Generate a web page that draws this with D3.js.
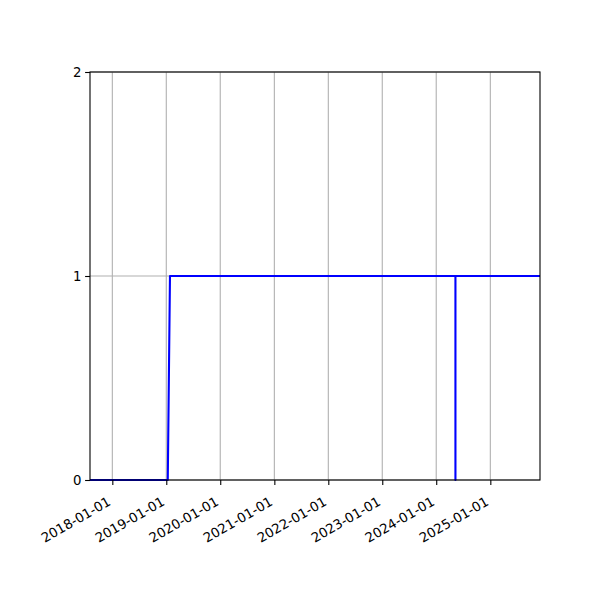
<!DOCTYPE html>
<html><head><meta charset="utf-8">
<script src="https://cdn.jsdelivr.net/npm/d3@7"></script>
<style>body{margin:0;background:#fff}svg{display:block}</style>
</head><body>
<script>
const dates = ["2017-08-03","2019-01-11","2019-01-26","2024-05-10","2024-05-10","2024-05-10","2025-12-03"];
const values = [0,0,1,1,0,1,1];
const xTicks = ["2018-01-01","2019-01-01","2020-01-01","2021-01-01","2022-01-01","2023-01-01","2024-01-01","2025-01-01"];
const yTicks = [0,1,2];
const xDomain = ["2017-08-03","2025-12-03"];
const yDomain = [0,2];

const parse = d3.utcParse("%Y-%m-%d");
const W=600,H=600, m={l:90,r:60,t:72,b:120};
const svg = d3.select("body").append("svg").attr("width",W).attr("height",H);
const x = d3.scaleUtc().domain(xDomain.map(parse)).range([m.l, W-m.r]);
const y = d3.scaleLinear().domain(yDomain).range([H-m.b, m.t]);
const font = "DejaVu Sans, sans-serif";

// grid
const g = svg.append("g");
g.selectAll(".vg").data(xTicks).join("line")
  .attr("x1",d=>x(parse(d))).attr("x2",d=>x(parse(d)))
  .attr("y1",y(0)).attr("y2",y(2))
  .attr("stroke","#b0b0b0").attr("stroke-width",1.1);
g.selectAll(".hg").data(yTicks).join("line")
  .attr("x1",m.l).attr("x2",W-m.r)
  .attr("y1",d=>y(d)).attr("y2",d=>y(d))
  .attr("stroke","#b0b0b0").attr("stroke-width",1.1);

// line
svg.append("clipPath").attr("id","c").append("rect")
  .attr("x",m.l).attr("y",m.t-2).attr("width",W-m.l-m.r).attr("height",H-m.t-m.b+4);
const data = dates.map((d,i)=>({d:parse(d),v:values[i]}));
svg.append("path").datum(data)
  .attr("clip-path","url(#c)")
  .attr("fill","none").attr("stroke","#0000ff").attr("stroke-width",2.1)
  .attr("stroke-linejoin","round")
  .attr("d", d3.line().x(d=>x(d.d)).y(d=>y(d.v)));

// axes
const xa = svg.append("g").attr("transform",`translate(0,${H-m.b})`)
  .call(d3.axisBottom(x).tickValues(xTicks.map(parse)).tickFormat(d3.utcFormat("%Y-%m-%d")).tickSize(4.9).tickSizeOuter(0));
xa.select(".domain").remove();
xa.selectAll("line").attr("stroke","#000").attr("stroke-width",1.1);
xa.selectAll("text").attr("font-family",font).attr("font-size",13.3).attr("fill","#000")
  .attr("text-anchor","end").attr("dy",null).attr("y",null)
  .attr("transform","translate(-6,16) rotate(-30)").attr("dominant-baseline","hanging");
const ya = svg.append("g").attr("transform",`translate(${m.l},0)`)
  .call(d3.axisLeft(y).tickValues(yTicks).tickFormat(d3.format("d")).tickSize(4.9).tickSizeOuter(0));
ya.select(".domain").remove();
ya.selectAll("line").attr("stroke","#000").attr("stroke-width",1.1);
ya.selectAll("text").attr("font-family",font).attr("font-size",13.3).attr("fill","#000").attr("x",-8.5);

// spines
svg.append("rect").attr("x",m.l).attr("y",m.t).attr("width",W-m.l-m.r).attr("height",H-m.t-m.b)
  .attr("fill","none").attr("stroke","#000").attr("stroke-width",1.1);
</script>
</body></html>
